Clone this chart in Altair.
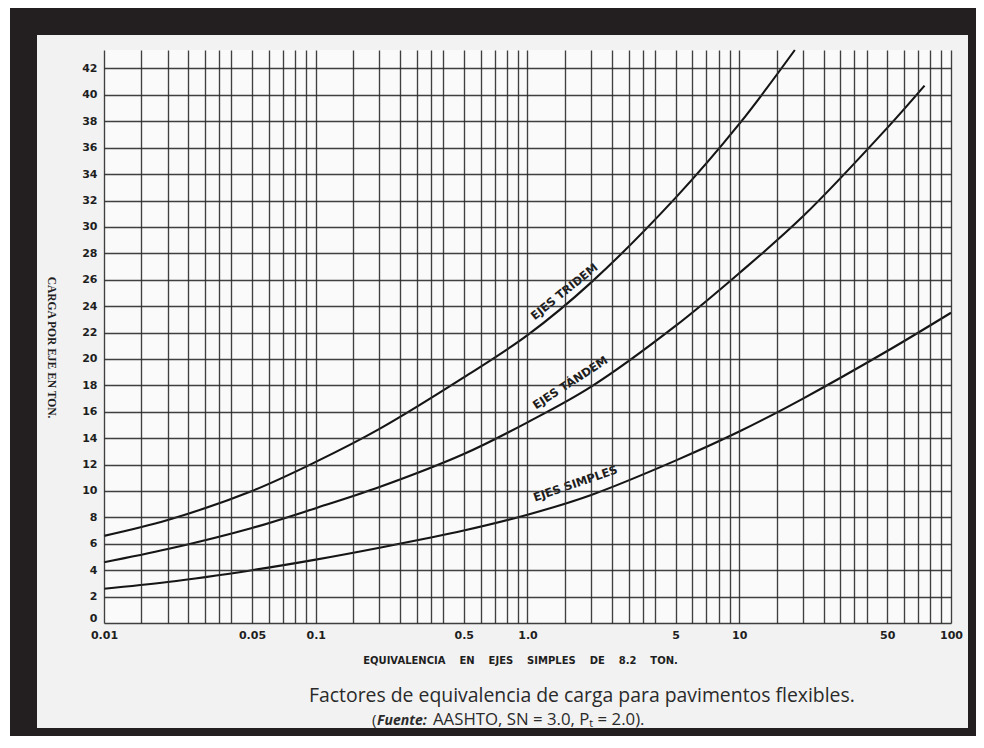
import altair as alt
import pandas as pd

# ---- data ----
simples_x = [0.01, 0.02, 0.05, 0.1, 0.2, 0.5, 1, 2, 5, 10, 20, 50, 100]
simples_y = [2.6, 3.1, 4.0, 4.8, 5.7, 7.0, 8.2, 9.7, 12.3, 14.5, 17.0, 20.6, 23.5]

tandem_x = [0.01, 0.02, 0.05, 0.1, 0.2, 0.5, 1, 2, 5, 10, 20, 50, 75]
tandem_y = [4.6, 5.6, 7.2, 8.7, 10.3, 12.8, 15.2, 17.9, 22.5, 26.5, 30.8, 37.5, 40.7]

tridem_x = [0.01, 0.02, 0.05, 0.1, 0.2, 0.5, 1, 2, 5, 10, 18.3]
tridem_y = [6.6, 7.8, 10.0, 12.2, 14.7, 18.6, 21.8, 25.8, 32.2, 37.8, 43.4]

curve_labels = ["EJES\u00a0TRIDEM", "EJES\u00a0TÁNDEM", "EJES\u00a0SIMPLES"]
curve_label_x = [1.50, 1.60, 1.69]
curve_label_y = [25.05, 18.15, 10.5]
curve_label_angle = [321, 327, 341]

grid_mult = [1, 1.5, 2, 2.5, 3, 3.5, 4, 5, 6, 7, 8, 9]
grid_decades = [0.01, 0.1, 1, 10]
x_grid = [round(m * d, 6) for d in grid_decades for m in grid_mult] + [100]
x_labels = [0.01, 0.05, 0.1, 0.5, 1, 5, 10, 50, 100]
y_ticks = list(range(0, 43, 2))

SP = "\u00a0\u00a0\u00a0\u00a0"
x_title = SP.join(["EQUIVALENCIA", "EN", "EJES", "SIMPLES", "DE", "8.2", "TON."])
y_title = "CARGA POR EJE EN TON."
caption1 = "Factores de equivalencia de carga para pavimentos flexibles."
caption2_open = "("
caption2_bold = "Fuente:"
caption2_rest = "AASHTO, SN = 3.0, Pₜ = 2.0)."

# ---- layout (pixels) ----
W, H = 847, 573
PAD_L, PAD_T = 96, 42
PAD_R = 968 - PAD_L - W
PAD_B = 728 - PAD_T - H

rows = []
for name, xs_, ys_ in [("simples", simples_x, simples_y),
                       ("tandem", tandem_x, tandem_y),
                       ("tridem", tridem_x, tridem_y)]:
    for a, b in zip(xs_, ys_):
        rows.append({"serie": name, "x": a, "y": b})
curves_df = pd.DataFrame(rows)

labels_df = pd.DataFrame({"txt": curve_labels, "x": curve_label_x,
                          "y": curve_label_y, "angle": curve_label_angle})

one = pd.DataFrame({"a": [0]})

xs = alt.Scale(type="log", domain=[0.01, 100], nice=False)
ys = alt.Scale(domain=[0, 43.4], nice=False)

lab_list = ",".join(str(v) for v in x_labels)
x_axis = alt.Axis(
    values=x_grid, grid=True, ticks=False, domain=False, zindex=1,
    gridColor="#2b2b2b", gridWidth=1.35, gridOpacity=0.9,
    labelExpr=f"datum.value == 1 ? '1.0' : (indexof([{lab_list}], datum.value) >= 0 ? '' + datum.value : '')",
    labelFont="DejaVu Sans", labelFontWeight="bold", labelFontSize=11,
    labelColor="#1e1e1e", labelPadding=6, labelOverlap=False, labelFlush=False,
    title=x_title, titleFont="DejaVu Sans", titleFontWeight="bold", titleFontSize=10,
    titleColor="#1e1e1e", titleX=416, titleY=37, titleAlign="center", titleBaseline="middle",
)
y_axis = alt.Axis(
    values=y_ticks, grid=True, ticks=False, domain=False, zindex=1,
    gridColor="#2b2b2b", gridWidth=1.35, gridOpacity=0.9,
    labelFont="DejaVu Sans", labelFontWeight="bold", labelFontSize=11,
    labelColor="#1e1e1e", labelPadding=7,
    labelOffset={"condition": {"test": "datum.value == 0", "value": -5}, "value": 0},
    title=y_title, titleFont="Liberation Serif", titleFontWeight="bold", titleFontSize=11.5,
    titleColor="#1e1e1e", titleAngle=90, titleX=-54, titleY=297,
    titleAlign="center", titleBaseline="middle",
)

frame = alt.Chart(one).mark_rect(color="#231f20").encode(
    x=alt.value(10 - 104), x2=alt.value(990 - 104),
    y=alt.value(8 - 50), y2=alt.value(760 - 50))
page = alt.Chart(one).mark_rect(color="#f2f2f2").encode(
    x=alt.value(37 - 104), x2=alt.value(968 - 104),
    y=alt.value(35 - 50), y2=alt.value(728 - 50))
plotbg = alt.Chart(one).mark_rect(color="#fafafa").encode(
    x=alt.value(0), x2=alt.value(W), y=alt.value(0), y2=alt.value(H))

lines = alt.Chart(curves_df).mark_line(
    color="#151515", strokeWidth=2.1, interpolate="catmull-rom").encode(
    x=alt.X("x:Q", scale=xs, axis=x_axis),
    y=alt.Y("y:Q", scale=ys, axis=y_axis),
    detail="serie:N",
)

labels = alt.Chart(labels_df).mark_text(
    font="DejaVu Sans", fontWeight="bold", fontSize=11.5, color="#1e1e1e",
    align="center", baseline="middle").encode(
    x=alt.X("x:Q", scale=xs, axis=x_axis),
    y=alt.Y("y:Q", scale=ys, axis=y_axis),
    text="txt:N",
    angle=alt.Angle("angle:Q", scale=None),
)

cap1 = alt.Chart(one).mark_text(
    text=caption1, font="Open Sans", fontSize=19.4, color="#2a2a2a",
    align="left", baseline="alphabetic").encode(
    x=alt.value(309 - 104), y=alt.value(702 - 50))
cap2a = alt.Chart(one).mark_text(
    text=caption2_open, font="Open Sans", fontSize=15, color="#2a2a2a",
    align="left", baseline="alphabetic").encode(
    x=alt.value(372 - 104), y=alt.value(725 - 50))
cap2b = alt.Chart(one).mark_text(
    text=caption2_bold, font="Open Sans", fontSize=14, fontWeight="bold", fontStyle="italic",
    color="#2a2a2a", align="left", baseline="alphabetic").encode(
    x=alt.value(377 - 104), y=alt.value(725 - 50))
cap2c = alt.Chart(one).mark_text(
    text=caption2_rest, font="Open Sans", fontSize=16.8, color="#2a2a2a",
    align="left", baseline="alphabetic").encode(
    x=alt.value(433 - 104), y=alt.value(725 - 50))

chart = alt.layer(frame, page, plotbg, lines, labels, cap1, cap2a, cap2b, cap2c).properties(
    width=W, height=H,
    autosize=alt.AutoSizeParams(type="none"),
    padding={"left": PAD_L, "top": PAD_T, "right": PAD_R, "bottom": PAD_B},
    background="#ffffff",
).configure_view(stroke=None)

chart.save("out.html", embed_options={"renderer": "svg", "actions": False})
